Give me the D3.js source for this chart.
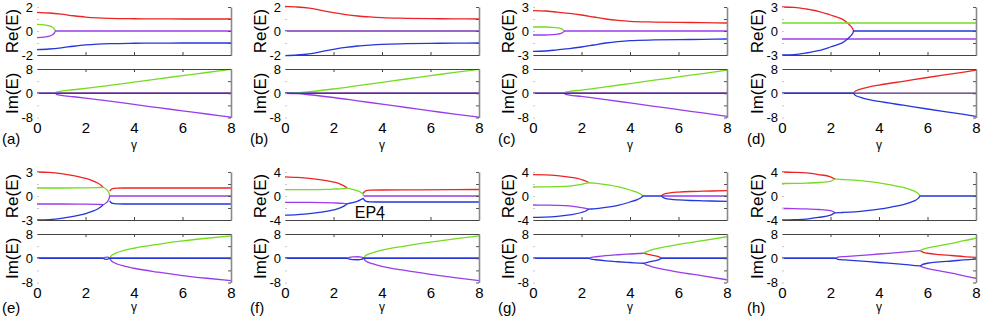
<!DOCTYPE html>
<html>
<head>
<meta charset="utf-8">
<script src="https://cdn.jsdelivr.net/npm/d3@7"></script>
<style>
body { margin: 0; background: #fff; }
svg { display: block; font-family: "Liberation Sans", Arial, sans-serif; }
</style>
</head>
<body>
<script>
//panel names and axis limits
var panelNames = ["(a)", "(b)", "(c)", "(d)", "(e)", "(f)", "(g)", "(h)"];
var reLimits = [2, 2, 3, 3, 3, 4, 4, 4];
var imLimit = 8;
var gammaTicks = [0, 2, 4, 6, 8];

//eigenvalue branches as [gamma, value]; null breaks a branch
//order in every panel: red, green, purple, blue
var reA = [
    [[0,1.56],[0.5,1.5],[1,1.4],[1.5,1.27],[2,1.16],[2.5,1.09],[3,1.05],[4,1.02],[5,1.01],[6,1.0],[8,1.0]],
    [[0,0.55],[0.3,0.51],[0.5,0.43],[0.62,0.33],[0.7,0.21],[0.74,0.09],[0.76,0]],
    [[0,-0.55],[0.3,-0.51],[0.5,-0.43],[0.62,-0.33],[0.7,-0.21],[0.74,-0.09],[0.76,0],[8,0]],
    [[0,-1.56],[0.5,-1.5],[1,-1.4],[1.5,-1.27],[2,-1.16],[2.5,-1.09],[3,-1.05],[4,-1.02],[5,-1.01],[6,-1.0],[8,-1.0]]
];
var imA = [
    [[0,0],[8,0]],
    [[0.76,0],[0.8,0.35],[1,0.7],[1.5,1.15],[2,1.6],[3,2.6],[4,3.7],[5,4.75],[6,5.8],[7,6.85],[8,7.9]],
    [[0.76,0],[0.8,-0.35],[1,-0.7],[1.5,-1.15],[2,-1.6],[3,-2.6],[4,-3.7],[5,-4.75],[6,-5.8],[7,-6.85],[8,-7.9]],
    [[0,0],[8,0]]
];

var reB = [
    [[0,2.05],[0.5,2.0],[1,1.9],[1.5,1.72],[2,1.53],[2.5,1.37],[3,1.25],[3.5,1.17],[4,1.11],[5,1.06],[6,1.03],[7,1.01],[8,1.0]],
    [[0,0],[8,0]],
    [[0,0],[8,0]],
    [[0,-2.05],[0.5,-2.0],[1,-1.9],[1.5,-1.72],[2,-1.53],[2.5,-1.37],[3,-1.25],[3.5,-1.17],[4,-1.11],[5,-1.06],[6,-1.03],[7,-1.01],[8,-1.0]]
];
var imB = [
    [[0,0],[8,0]],
    [[0,0],[0.5,0.15],[1,0.5],[2,1.4],[3,2.5],[4,3.6],[5,4.7],[6,5.8],[7,6.9],[8,7.9]],
    [[0,0],[0.5,-0.15],[1,-0.5],[2,-1.4],[3,-2.5],[4,-3.6],[5,-4.7],[6,-5.8],[7,-6.9],[8,-7.9]],
    [[0,0],[8,0]]
];

var reC = [
    [[0,2.55],[0.5,2.5],[1,2.35],[1.5,2.2],[2,2.0],[2.5,1.75],[3,1.5],[3.5,1.32],[4,1.2],[5,1.12],[6,1.08],[7,1.04],[8,1.0]],
    [[0,0.5],[0.5,0.5],[0.8,0.46],[1.0,0.4],[1.15,0.3],[1.23,0.18],[1.27,0.08],[1.29,0]],
    [[0,-0.5],[0.5,-0.5],[0.8,-0.46],[1.0,-0.4],[1.15,-0.3],[1.23,-0.18],[1.27,-0.08],[1.29,0],[8,0]],
    [[0,-2.55],[0.5,-2.5],[1,-2.35],[1.5,-2.2],[2,-2.0],[2.5,-1.75],[3,-1.5],[3.5,-1.32],[4,-1.2],[5,-1.12],[6,-1.08],[7,-1.04],[8,-1.0]]
];
var imC = [
    [[0,0],[8,0]],
    [[1.29,0],[1.35,0.35],[1.5,0.6],[2,1.05],[3,2.1],[4,3.2],[5,4.3],[6,5.4],[7,6.5],[8,7.6]],
    [[1.29,0],[1.35,-0.35],[1.5,-0.6],[2,-1.05],[3,-2.1],[4,-3.2],[5,-4.3],[6,-5.4],[7,-6.5],[8,-7.6]],
    [[0,0],[8,0]]
];

var reD = [
    [[0,3.0],[0.5,2.95],[1,2.75],[1.5,2.46],[2,2.0],[2.3,1.7],[2.5,1.45],[2.7,1.0],[2.8,0.72],[2.88,0.45],[2.93,0.2],[2.95,0]],
    [[0,1],[8,1]],
    [[0,-1],[8,-1]],
    [[0,-3.0],[0.5,-2.95],[1,-2.75],[1.5,-2.46],[2,-2.0],[2.3,-1.7],[2.5,-1.45],[2.7,-1.0],[2.8,-0.72],[2.88,-0.45],[2.93,-0.2],[2.95,0],[8,0]]
];
var imD = [
    [[2.95,0],[3.0,0.55],[3.1,1.0],[3.3,1.5],[3.6,2.1],[4,2.7],[5,3.95],[6,5.2],[7,6.4],[8,7.6]],
    [[0,0],[8,0]],
    [[0,0],[8,0]],
    [[0,0],[2.95,0],[3.0,-0.55],[3.1,-1.0],[3.3,-1.5],[3.6,-2.1],[4,-2.7],[5,-3.95],[6,-5.2],[7,-6.4],[8,-7.6]]
];

var reE = [
    [[0,3.0],[0.5,2.95],[1,2.8],[1.5,2.55],[2,2.2],[2.3,1.9],[2.5,1.62],[2.65,1.32],[2.73,1.08], null,
     [3.0,0.6],[3.05,0.82],[3.12,0.93],[3.3,0.98],[3.6,1.0],[8,1.0]],
    [[0,1.0],[1,1.0],[2,1.02],[2.5,1.05],[2.73,1.08],[2.85,0.85],[2.93,0.6],[2.97,0.35],[3.0,0]],
    [[0,-1.0],[1,-1.0],[2,-1.02],[2.5,-1.05],[2.73,-1.08],[2.85,-0.85],[2.93,-0.6],[2.97,-0.35],[3.0,0],[8,0]],
    [[0,-3.0],[0.5,-2.95],[1,-2.8],[1.5,-2.55],[2,-2.2],[2.3,-1.9],[2.5,-1.62],[2.65,-1.32],[2.73,-1.08], null,
     [3.0,-0.6],[3.05,-0.82],[3.12,-0.93],[3.3,-0.98],[3.6,-1.0],[8,-1.0]]
];
var imE = [
    [[0,0],[2.73,0], null, [3.0,0],[8,0]],
    [[3.0,0],[3.05,0.7],[3.15,1.3],[3.3,1.9],[3.6,2.6],[4,3.3],[5,4.6],[6,5.7],[7,6.6],[8,7.4]],
    [[0,0],[2.73,0],[2.8,0.3],[2.9,0.35],[3.0,0],[3.05,-0.7],[3.15,-1.3],[3.3,-1.9],[3.6,-2.6],[4,-3.3],[5,-4.6],[6,-5.7],[7,-6.6],[8,-7.4]],
    [[0,0],[2.73,0],[2.8,-0.3],[2.9,-0.35],[3.0,0],[8,0]]
];

var reF = [
    [[0,3.2],[0.5,3.1],[1,2.95],[1.5,2.7],[2,2.33],[2.3,1.95],[2.45,1.65],[2.57,1.3], null,
     [3.22,0.42],[3.28,0.7],[3.35,0.88],[3.5,0.97],[4,1.0],[5.5,1.02],[8,1.08]],
    [[0,1.05],[1,1.07],[2,1.15],[2.4,1.22],[2.57,1.3],[2.8,1.1],[3.0,0.85],[3.15,0.55],[3.2,0.42],[3.23,0.22],[3.25,0]],
    [[0,-1.05],[1,-1.07],[2,-1.15],[2.4,-1.22],[2.57,-1.3], null, [3.25,0],[8,0]],
    [[0,-3.2],[0.5,-3.1],[1,-2.95],[1.5,-2.7],[2,-2.33],[2.3,-1.95],[2.45,-1.65],[2.57,-1.3],[2.8,-1.1],[3.0,-0.85],
     [3.15,-0.55],[3.22,-0.42],[3.28,-0.7],[3.35,-0.88],[3.5,-0.97],[4,-1.0],[8,-1.0]]
];
var imF = [
    [[0,0],[2.57,0], null, [3.25,0],[8,0]],
    [[3.25,0],[3.3,0.7],[3.4,1.2],[3.6,1.8],[4,2.7],[5,4.1],[6,5.3],[7,6.4],[8,7.4]],
    [[0,0],[2.57,0],[2.65,0.3],[2.8,0.45],[3.0,0.5],[3.15,0.4],[3.25,0],[3.3,-0.7],[3.4,-1.2],[3.6,-1.8],[4,-2.7],[5,-4.1],[6,-5.3],[7,-6.4],[8,-7.4]],
    [[0,0],[2.57,0],[2.65,-0.3],[2.8,-0.45],[3.0,-0.5],[3.15,-0.4],[3.25,0],[8,0]]
];

var reG = [
    [[0,3.55],[0.5,3.52],[1,3.4],[1.5,3.15],[2,2.75],[2.2,2.45],[2.3,2.2], null,
     [5.3,0],[5.35,0.22],[5.45,0.38],[5.7,0.55],[6,0.65],[6.5,0.75],[7,0.8],[8,0.89]],
    [[0,1.5],[0.5,1.52],[1,1.55],[1.5,1.65],[2,1.95],[2.3,2.2],[2.5,2.15],[3,1.9],[3.5,1.55],[4,1.0],[4.3,0.6],[4.45,0.3],[4.55,0]],
    [[0,-1.5],[0.5,-1.52],[1,-1.55],[1.5,-1.65],[2,-1.95],[2.3,-2.2], null, [5.3,0],[8,0]],
    [[0,-3.55],[0.5,-3.52],[1,-3.4],[1.5,-3.15],[2,-2.75],[2.2,-2.45],[2.3,-2.2],[2.5,-2.15],[3,-1.9],[3.5,-1.55],[4,-1.0],
     [4.3,-0.6],[4.45,-0.3],[4.55,0],[5.3,0],[5.35,-0.22],[5.45,-0.38],[5.7,-0.55],[6,-0.65],[6.5,-0.75],[7,-0.8],[8,-0.89]]
];
var imG = [
    [[4.55,1.65],[4.75,1.3],[5.0,0.9],[5.2,0.45],[5.3,0],[8,0]],
    [[4.55,1.65],[4.65,2.1],[4.8,2.5],[5,3.0],[5.5,3.8],[6,4.6],[7,5.8],[8,7.1]],
    [[0,0],[2.3,0],[2.4,0.3],[2.6,0.5],[3,0.85],[3.5,1.15],[4,1.4],[4.55,1.65], null,
     [4.55,-1.65],[4.65,-2.1],[4.8,-2.5],[5,-3.0],[5.5,-3.8],[6,-4.6],[7,-5.8],[8,-7.1]],
    [[0,0],[2.3,0],[2.4,-0.3],[2.6,-0.5],[3,-0.85],[3.5,-1.15],[4,-1.4],[4.55,-1.65],[4.75,-1.3],[5.0,-0.9],[5.2,-0.45],[5.3,0],[8,0]]
];

var reH = [
    [[0,4.0],[0.5,3.95],[1,3.86],[1.5,3.58],[2,3.2],[2.2,2.8]],
    [[0,2.08],[0.5,2.1],[1,2.15],[1.5,2.25],[2,2.45],[2.2,2.8],[2.5,2.75],[3,2.64],[3.5,2.45],[4,2.2],[4.5,1.85],[5,1.42],
     [5.3,1.05],[5.5,0.72],[5.62,0.4],[5.7,0]],
    [[0,-2.08],[0.5,-2.1],[1,-2.15],[1.5,-2.25],[2,-2.45],[2.2,-2.8]],
    [[0,-4.0],[0.5,-3.95],[1,-3.86],[1.5,-3.58],[2,-3.2],[2.2,-2.8],[2.5,-2.75],[3,-2.64],[3.5,-2.45],[4,-2.2],[4.5,-1.85],
     [5,-1.42],[5.3,-1.05],[5.5,-0.72],[5.62,-0.4],[5.7,0],[8,0]]
];
var imH = [
    [[5.7,2.5],[5.8,2.05],[6,1.65],[6.5,1.2],[7,0.9],[7.5,0.55],[8,0.3]],
    [[5.7,2.5],[5.8,2.95],[6,3.4],[6.5,4.2],[7,4.9],[7.5,5.8],[8,6.6]],
    [[0,0],[2.2,0],[2.3,0.35],[2.6,0.55],[3,0.77],[4,1.4],[5,2.0],[5.7,2.5], null,
     [5.7,-2.5],[5.8,-2.95],[6,-3.4],[6.5,-4.2],[7,-4.9],[7.5,-5.8],[8,-6.6]],
    [[0,0],[2.2,0],[2.3,-0.35],[2.6,-0.55],[3,-0.77],[4,-1.4],[5,-2.0],[5.7,-2.5],[5.8,-2.05],[6,-1.65],[6.5,-1.2],[7,-0.9],
     [7.5,-0.55],[8,-0.3]]
];

var rePanels = [reA, reB, reC, reD, reE, reF, reG, reH];
var imPanels = [imA, imB, imC, imD, imE, imF, imG, imH];

//branch colours: red, green, purple, blue
var branchColors = ["#ee2424", "#74dc1e", "#9a3cec", "#2436dc"];

var width = 982;
var height = 319;
var colLeft = [37, 285, 533, 782];
var rowTop = [7, 172];
var gammaLabelY = [149, 311];
var panelLabelY = [144, 313];
var plotWidth = 194;
var plotHeight = 48;
var imOffset = 62;

var svg = d3.select("body").append("svg")
    .attr("width", width)
    .attr("height", height);

function drawBranches(g, branches, x, y){
    var line = d3.line()
        .defined(function(d){ return d !== null; })
        .x(function(d){ return x(d[0]); })
        .y(function(d){ return y(d[1]); })
        .curve(d3.curveMonotoneX);
    branches.forEach(function(points, k){
        g.append("path")
            .attr("d", line(points))
            .attr("fill", "none")
            .attr("stroke", branchColors[k])
            .attr("stroke-width", 1.3);
    });
}

function styleAxis(sel, color){
    sel.selectAll(".domain").attr("stroke", color);
    sel.selectAll(".tick line").attr("stroke", color);
}

function drawFrame(g, x, y, left, limit, edge){
    var yTicks = [-limit, -limit/2, 0, limit/2, limit];

    //right border with inner ticks
    var right = g.append("g")
        .attr("transform", "translate(" + (left + plotWidth) + ",0)")
        .call(d3.axisLeft(y).tickValues(yTicks).tickSize(3).tickSizeOuter(0).tickFormat(""));
    styleAxis(right, "#8a8a8a");
    right.select(".domain").attr("stroke-width", 1.6);
    right.selectAll(".tick line").attr("stroke", "#555");

    //faint ticks on the left side
    var leftTicks = g.append("g")
        .attr("transform", "translate(" + left + ",0)")
        .call(d3.axisRight(y).tickValues(yTicks).tickSize(2).tickFormat(""));
    leftTicks.select(".domain").remove();
    leftTicks.selectAll(".tick line").attr("stroke", "#c8c8c8");

    //horizontal border (bottom for Re, top for Im)
    var yEdge = edge == "bottom" ? y(-limit) : y(limit);
    var axis = edge == "bottom" ? d3.axisTop(x) : d3.axisBottom(x);
    var hor = g.append("g")
        .attr("transform", "translate(0," + yEdge + ")")
        .call(axis.tickValues([2, 4, 6]).tickSize(3).tickSizeOuter(0).tickFormat(""));
    styleAxis(hor, "#444");

    //tick labels
    var labels = g.append("g")
        .attr("transform", "translate(" + left + ",0)")
        .call(d3.axisLeft(y).tickValues([-limit, 0, limit]).tickSize(0).tickPadding(4)
            .tickFormat(function(d){ return String(d); }));
    labels.select(".domain").remove();
    labels.selectAll("text").style("font-size", "13px").attr("fill", "#000");
}

function axisTitle(g, text, cx, cy){
    g.append("text")
        .attr("transform", "translate(" + cx + "," + cy + ") rotate(-90)")
        .attr("text-anchor", "middle")
        .attr("dy", "0.35em")
        .style("font-size", "17px")
        .text(text);
}

rePanels.forEach(function(reData, i){
    var col = i % 4;
    var row = Math.floor(i / 4);
    var left = colLeft[col];
    var top = rowTop[row];
    var limit = reLimits[i];

    var g = svg.append("g").attr("class", "panel");

    var x = d3.scaleLinear().domain([0, 8]).range([left, left + plotWidth]);
    var yRe = d3.scaleLinear().domain([-limit, limit]).range([top + plotHeight, top]);
    var yIm = d3.scaleLinear().domain([-imLimit, imLimit])
        .range([top + imOffset + plotHeight + 0.5, top + imOffset]);

    drawBranches(g, reData, x, yRe);
    drawBranches(g, imPanels[i], x, yIm);

    drawFrame(g, x, yRe, left, limit, "bottom");
    drawFrame(g, x, yIm, left, imLimit, "top");

    //gamma axis labels
    var xAxis = g.append("g")
        .attr("transform", "translate(0," + (top + imOffset + plotHeight + 0.5) + ")")
        .call(d3.axisBottom(x).tickValues(gammaTicks).tickSize(0).tickPadding(5)
            .tickFormat(function(d){ return String(d); }));
    xAxis.select(".domain").remove();
    xAxis.selectAll("text").style("font-size", "15px").attr("fill", "#000");

    g.append("text")
        .attr("x", left + plotWidth / 2)
        .attr("y", gammaLabelY[row])
        .attr("text-anchor", "middle")
        .style("font-size", "12px")
        .text("γ");

    axisTitle(g, "Re(E)", left - 25, yRe(0));
    axisTitle(g, "Im(E)", left - 25, yIm(0));

    g.append("text")
        .attr("x", left - 35)
        .attr("y", panelLabelY[row])
        .style("font-size", "15px")
        .text(panelNames[i]);

    if(panelNames[i] == "(f)"){
        g.append("text")
            .attr("x", x(3.5))
            .attr("y", yRe(-3.7))
            .attr("text-anchor", "middle")
            .style("font-size", "16px")
            .text("EP4");
    }
});
</script>
</body>
</html>
